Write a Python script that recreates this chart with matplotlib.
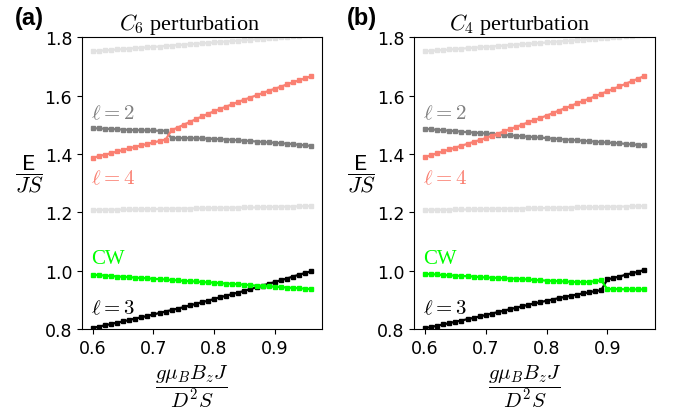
import numpy as np
import matplotlib
matplotlib.use("Agg")
import matplotlib.pyplot as plt

plt.rcParams['mathtext.fontset'] = 'cm'

# field values g mu_B B_z J / (D^2 S)
field = [0.60, 0.61, 0.62, 0.63, 0.64, 0.65, 0.66, 0.67, 0.68, 0.69,
         0.70, 0.71, 0.72, 0.73, 0.74, 0.75, 0.76, 0.77, 0.78, 0.79,
         0.80, 0.81, 0.82, 0.83, 0.84, 0.85, 0.86, 0.87, 0.88, 0.89,
         0.90, 0.91, 0.92, 0.93, 0.94, 0.95, 0.96]

# faint bands, same in both panels
e_top_light = [1.753, 1.754, 1.756, 1.757, 1.759, 1.760, 1.762, 1.763, 1.765, 1.766,
               1.768, 1.769, 1.771, 1.772, 1.774, 1.775, 1.777, 1.778, 1.780, 1.781,
               1.783, 1.785, 1.786, 1.788, 1.789, 1.791, 1.792, 1.794, 1.796, 1.797,
               1.799, 1.800, 1.802, 1.804, 1.805, 1.807, 1.808]
e_low_light = [1.208, 1.208, 1.209, 1.209, 1.209, 1.210, 1.210, 1.210, 1.211, 1.211,
               1.211, 1.212, 1.212, 1.212, 1.213, 1.213, 1.213, 1.214, 1.214, 1.214,
               1.215, 1.215, 1.215, 1.216, 1.216, 1.217, 1.217, 1.217, 1.218, 1.218,
               1.219, 1.219, 1.220, 1.220, 1.221, 1.221, 1.222]

# (a) C6 perturbation
l2_c6 = [1.489, 1.488, 1.487, 1.486, 1.485, 1.484, 1.483, 1.482, 1.482, 1.481,
         1.481, 1.480, 1.480, 1.454, 1.455, 1.455, 1.455, 1.454, 1.454, 1.453,
         1.452, 1.451, 1.450, 1.449, 1.447, 1.446, 1.445, 1.443, 1.442, 1.440,
         1.439, 1.437, 1.436, 1.434, 1.432, 1.430, 1.428]
l4_c6 = [1.387, 1.393, 1.398, 1.403, 1.409, 1.414, 1.420, 1.425, 1.430, 1.435,
         1.440, 1.445, 1.450, 1.482, 1.491, 1.501, 1.510, 1.520, 1.529, 1.538,
         1.547, 1.555, 1.563, 1.571, 1.579, 1.587, 1.594, 1.602, 1.609, 1.617,
         1.624, 1.631, 1.639, 1.646, 1.653, 1.660, 1.667]
cw_c6 = [0.986, 0.985, 0.983, 0.982, 0.980, 0.979, 0.978, 0.976, 0.975, 0.974,
         0.972, 0.971, 0.970, 0.968, 0.967, 0.965, 0.964, 0.963, 0.961, 0.960,
         0.959, 0.957, 0.956, 0.955, 0.953, 0.952, 0.950, 0.949, 0.948, 0.946,
         0.945, 0.944, 0.942, 0.941, 0.940, 0.938, 0.937]
l3_c6 = [0.804, 0.808, 0.813, 0.817, 0.822, 0.826, 0.831, 0.836, 0.840, 0.845,
         0.850, 0.855, 0.860, 0.865, 0.870, 0.875, 0.881, 0.886, 0.892, 0.897,
         0.903, 0.909, 0.914, 0.920, 0.925, 0.931, 0.937, 0.943, 0.949, 0.955,
         0.961, 0.967, 0.973, 0.980, 0.986, 0.992, 0.998]

# (b) C4 perturbation
l2_c4 = [1.487, 1.485, 1.483, 1.482, 1.480, 1.479, 1.477, 1.475, 1.474, 1.472,
         1.471, 1.469, 1.467, 1.466, 1.464, 1.463, 1.461, 1.460, 1.458, 1.457,
         1.455, 1.453, 1.452, 1.450, 1.449, 1.447, 1.446, 1.444, 1.443, 1.441,
         1.440, 1.438, 1.437, 1.435, 1.433, 1.432, 1.430]
l4_c4 = [1.390, 1.396, 1.403, 1.409, 1.416, 1.422, 1.429, 1.435, 1.442, 1.448,
         1.455, 1.463, 1.470, 1.478, 1.486, 1.493, 1.501, 1.509, 1.517, 1.524,
         1.532, 1.540, 1.549, 1.557, 1.565, 1.574, 1.582, 1.590, 1.598, 1.607,
         1.615, 1.624, 1.632, 1.641, 1.650, 1.658, 1.667]
cw_c4 = [0.989, 0.988, 0.987, 0.985, 0.984, 0.983, 0.982, 0.981, 0.980, 0.978,
         0.977, 0.976, 0.975, 0.974, 0.973, 0.972, 0.971, 0.970, 0.968, 0.967,
         0.966, 0.965, 0.964, 0.963, 0.962, 0.961, 0.961, 0.962, 0.964, 0.967,
         0.937, 0.937, 0.937, 0.936, 0.936, 0.936, 0.936]
l3_c4 = [0.803, 0.807, 0.811, 0.816, 0.820, 0.825, 0.829, 0.834, 0.838, 0.843,
         0.848, 0.853, 0.858, 0.863, 0.868, 0.873, 0.878, 0.883, 0.888, 0.892,
         0.897, 0.901, 0.906, 0.910, 0.914, 0.918, 0.922, 0.926, 0.930, 0.933,
         0.970, 0.975, 0.980, 0.986, 0.991, 0.996, 1.002]

LIGHT = '#e2e2e2'
GRAY = '#7f7f7f'
SALMON = '#fa8072'
LIME = '#00ff00'
SERIF = 'Liberation Serif'


def draw_panel(ax, l2, l4, cw, l3, title, title_x):
    style = dict(marker='s', markersize=3, linewidth=1.6)
    ax.plot(field, e_top_light, color=LIGHT, **style)
    ax.plot(field, e_low_light, color=LIGHT, **style)
    ax.plot(field, l2, color=GRAY, **style)
    ax.plot(field, l4, color=SALMON, **style)
    ax.plot(field, l3, color='black', **style)
    ax.plot(field, cw, color=LIME, **style)

    ax.set_ylim(0.8, 1.8)
    ax.set_yticks([0.8, 1.0, 1.2, 1.4, 1.6, 1.8])
    ax.set_xticks([0.6, 0.7, 0.8, 0.9])
    ax.tick_params(labelsize=12.5)

    txt = dict(fontsize=15, ha='left', va='center')
    ax.text(0.597, 1.545, r'$\ell = 2$', color=GRAY, **txt)
    ax.text(0.597, 1.322, r'$\ell = 4$', color=SALMON, **txt)
    ax.text(0.597, 1.042, 'CW', color=LIME, family=SERIF, **txt)
    ax.text(0.597, 0.876, r'$\ell = 3$', color='black', **txt)

    ax.set_title(title, fontsize=16, x=title_x, family=SERIF)
    ax.set_ylabel(r'$\dfrac{\mathsf{E}}{JS}$', fontsize=16, rotation=0,
                  ha='center', va='center')
    ax.yaxis.set_label_coords(-0.22, 0.535)
    ax.set_xlabel(r'$\dfrac{g\mu_B B_z J}{D^2 S}$', fontsize=15,
                  ha='center', va='top')
    ax.xaxis.set_label_coords(0.46, -0.115)


fig = plt.figure(figsize=(6.73, 4.10), dpi=100)
ax_a = fig.add_axes([0.1218, 0.1951, 0.3566, 0.711])
ax_b = fig.add_axes([0.6152, 0.1951, 0.3576, 0.711])

draw_panel(ax_a, l2_c6, l4_c6, cw_c6, l3_c6, r'$C_6$ perturbation', 0.45)
draw_panel(ax_b, l2_c4, l4_c4, cw_c4, l3_c4, r'$C_4$ perturbation', 0.44)

fig.text(0.022, 0.955, '(a)', fontsize=17, fontweight='bold',
         family='Liberation Sans', va='center')
fig.text(0.516, 0.955, '(b)', fontsize=17, fontweight='bold',
         family='Liberation Sans', va='center')

fig.savefig('out.png', dpi=100)
